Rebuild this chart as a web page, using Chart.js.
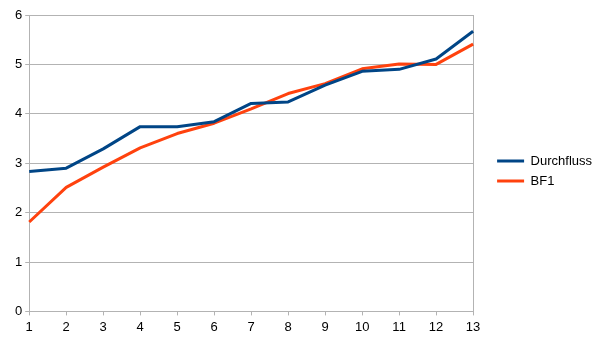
<!DOCTYPE html>
<html>
<head>
<meta charset="utf-8">
<script src="https://cdn.jsdelivr.net/npm/chart.js@4"></script>
<style>
  html, body { margin: 0; padding: 0; background: #fff; }
  #wrap { width: 605px; height: 340px; }
</style>
</head>
<body>
<div id="wrap"><canvas id="c" width="605" height="340"></canvas></div>
<script>
const categories = ['1','2','3','4','5','6','7','8','9','10','11','12','13'];
const durchfluss = [2.83, 2.90, 3.29, 3.74, 3.74, 3.84, 4.21, 4.24, 4.58, 4.86, 4.90, 5.11, 5.67];
const bf1 = [1.81, 2.51, 2.92, 3.31, 3.60, 3.81, 4.10, 4.41, 4.61, 4.91, 5.01, 5.00, 5.41];
const yTicks = [0, 1, 2, 3, 4, 5, 6];

const gridGray = '#b3b3b3';
Chart.defaults.font.family = '"Liberation Sans", Arial, sans-serif';
Chart.defaults.font.size = 13;
Chart.defaults.color = '#000';

const legendShift = {
  id: 'legendShift',
  afterLayout(chart) {
    const lg = chart.legend;
    if (!lg) return;
    lg.left += 17; lg.right += 17;
    lg.top -= 6; lg.bottom -= 6;
  }
};

new Chart(document.getElementById('c'), {
  type: 'line',
  data: {
    labels: categories,
    datasets: [
      { label: 'Durchfluss', data: durchfluss, borderColor: '#004586', backgroundColor: '#004586',
        borderWidth: 3, pointRadius: 0, tension: 0, borderJoinStyle: 'round' },
      { label: 'BF1', data: bf1, borderColor: '#ff420e', backgroundColor: '#ff420e',
        borderWidth: 3, pointRadius: 0, tension: 0, borderJoinStyle: 'round' }
    ]
  },
  plugins: [legendShift],
  options: {
    responsive: false,
    animation: false,
    devicePixelRatio: 1,
    layout: { padding: { left: 12, right: 20, top: 15, bottom: 1 } },
    plugins: {
      legend: {
        position: 'right',
        labels: {
          boxWidth: 27, boxHeight: 3, padding: 7, color: '#000', font: { size: 13 },
          generateLabels: (chart) => {
            const items = Chart.defaults.plugins.legend.labels.generateLabels(chart);
            items.forEach(it => { it.lineWidth = 0; });
            return items;
          }
        }
      },
      tooltip: { enabled: false }
    },
    scales: {
      x: {
        offset: false,
        grid: {
          color: (ctx) => ctx.index === categories.length - 1 ? gridGray : 'rgba(0,0,0,0)',
          tickColor: gridGray,
          tickLength: 4,
          drawOnChartArea: true
        },
        border: { color: gridGray },
        ticks: { padding: 4, color: '#000', maxRotation: 0, autoSkip: false }
      },
      y: {
        min: 0, max: 6,
        afterBuildTicks: (scale) => { scale.ticks = yTicks.map(v => ({ value: v })); },
        grid: { color: gridGray, tickColor: gridGray, tickLength: 4 },
        border: { color: gridGray },
        ticks: { padding: 3, color: '#000' }
      }
    }
  }
});
</script>
</body>
</html>
